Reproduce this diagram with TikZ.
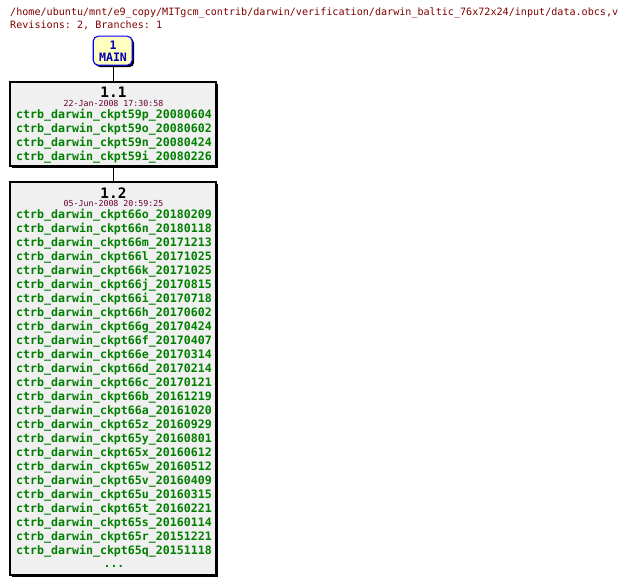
\documentclass[tikz,border=0pt]{standalone}
\usepackage{fontspec}
\setmonofont{DejaVu Sans Mono}
\usetikzlibrary{shadows}
\definecolor{titlered}{HTML}{800000}
\definecolor{datered}{HTML}{660033}
\definecolor{taggreen}{HTML}{007F00}
\definecolor{boxgrey}{HTML}{F0F0F0}
\definecolor{mainfill}{HTML}{FFFFC0}
\definecolor{mainblue}{HTML}{0000FF}
\definecolor{maintext}{HTML}{0000B0}
\tikzset{
  x=1pt,y=1pt,
  revbox/.style={draw=black,line width=1.1pt,fill=boxgrey,minimum width=206pt,inner sep=0pt,
    drop shadow={shadow xshift=2pt,shadow yshift=-2pt,fill=black,opacity=1}},
  mainbox/.style={draw=mainblue,line width=1.1pt,fill=mainfill,rounded corners=5pt,minimum width=39pt,minimum height=29pt,inner sep=0pt,
    drop shadow={shadow xshift=2pt,shadow yshift=-2pt,fill=black,opacity=1}},
  tagtxt/.style={inner sep=0pt,text=taggreen,font=\fontsize{11.6}{12}\selectfont\ttfamily\bfseries},
  revtxt/.style={inner sep=0pt,text=black,font=\fontsize{14.4}{15}\selectfont\ttfamily\bfseries},
  datetxt/.style={inner sep=0pt,text=datered,font=\fontsize{8.3}{9}\selectfont\ttfamily},
  headtxt/.style={inner sep=0pt,anchor=west,text=titlered,font=\fontsize{10.1}{11}\selectfont\ttfamily},
  maintxt/.style={inner sep=0pt,text=maintext,font=\fontsize{11.6}{12}\selectfont\ttfamily\bfseries},
  conn/.style={draw=black,line width=0.8pt}
}
\begin{document}
\begin{tikzpicture}
\useasboundingbox[fill=white] (0,0) rectangle (620,-585);
\node[headtxt] (title) at (10,-13) {/home/ubuntu/mnt/e9\_copy/MITgcm\_contrib/darwin/verification/darwin\_baltic\_76x72x24/input/data.obcs,v};
\node[headtxt] (revs) at (10,-25) {Revisions: 2, Branches: 1};
% boxes
\node[mainbox] (main) at (112.7,-50.7) {};
\node[revbox,minimum height=84pt] (r11) at (113,-124) {};
\node[revbox,minimum height=393pt] (r12) at (113,-378.5) {};
\draw[conn] (main.south -| 113,0) -- (r11.north -| 113,0);
\draw[conn] (r11.south -| 113,0) -- (r12.north -| 113,0);
% main text
\node[maintxt] (mainnum) at (113,-45.3) {1};
\node[maintxt] (mainlbl) at (113,-57.7) {MAIN};
% box 1.1
\node[revtxt] (n11) at (113.5,-92.5) {1.1};
\node[datetxt] (d11) at (113.5,-103.5) {22-Jan-2008 17:30:58};
\foreach \t [count=\i from 0] in {ctrb\_darwin\_ckpt59p\_20080604,ctrb\_darwin\_ckpt59o\_20080602,ctrb\_darwin\_ckpt59n\_20080424,ctrb\_darwin\_ckpt59i\_20080226}
  \node[tagtxt] (t11-\i) at (114,-115-14*\i) {\t};
% box 1.2
\node[revtxt] (n12) at (113.5,-193) {1.2};
\node[datetxt] (d12) at (113.5,-203.5) {05-Jun-2008 20:59:25};
\foreach \t [count=\i from 0] in {
ctrb\_darwin\_ckpt66o\_20180209,
ctrb\_darwin\_ckpt66n\_20180118,
ctrb\_darwin\_ckpt66m\_20171213,
ctrb\_darwin\_ckpt66l\_20171025,
ctrb\_darwin\_ckpt66k\_20171025,
ctrb\_darwin\_ckpt66j\_20170815,
ctrb\_darwin\_ckpt66i\_20170718,
ctrb\_darwin\_ckpt66h\_20170602,
ctrb\_darwin\_ckpt66g\_20170424,
ctrb\_darwin\_ckpt66f\_20170407,
ctrb\_darwin\_ckpt66e\_20170314,
ctrb\_darwin\_ckpt66d\_20170214,
ctrb\_darwin\_ckpt66c\_20170121,
ctrb\_darwin\_ckpt66b\_20161219,
ctrb\_darwin\_ckpt66a\_20161020,
ctrb\_darwin\_ckpt65z\_20160929,
ctrb\_darwin\_ckpt65y\_20160801,
ctrb\_darwin\_ckpt65x\_20160612,
ctrb\_darwin\_ckpt65w\_20160512,
ctrb\_darwin\_ckpt65v\_20160409,
ctrb\_darwin\_ckpt65u\_20160315,
ctrb\_darwin\_ckpt65t\_20160221,
ctrb\_darwin\_ckpt65s\_20160114,
ctrb\_darwin\_ckpt65r\_20151221,
ctrb\_darwin\_ckpt65q\_20151118}
  \node[tagtxt] (t12-\i) at (114,-215-14*\i) {\t};
\node[tagtxt] (dots) at (114,-566) {...};
\end{tikzpicture}
\end{document}
